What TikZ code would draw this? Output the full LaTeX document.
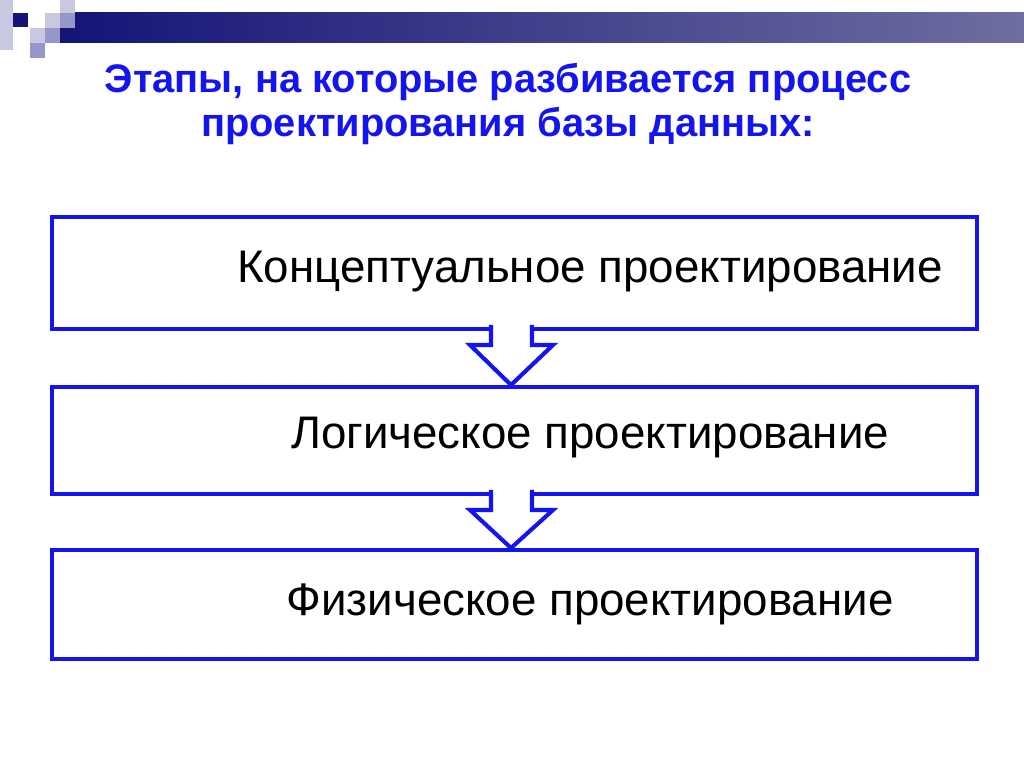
\documentclass[tikz,border=0pt]{standalone}
\usepackage{fontspec}
\setmainfont{Liberation Sans}
\usetikzlibrary{calc}
\definecolor{bl}{RGB}{20,20,240}
\definecolor{navy}{RGB}{20,20,120}
\definecolor{navyend}{RGB}{110,110,160}
\definecolor{lav}{RGB}{200,200,225}
\definecolor{mid}{RGB}{150,150,200}
\tikzset{stagebox/.style={draw=bl,line width=3.5pt,fill=white,minimum width=925*0.03cm,anchor=north west,inner sep=0},
 stagetext/.style={font=\fontsize{39}{44}\selectfont},
 flow/.style={draw=bl,line width=3.5pt,fill=white,line join=miter}}
\begin{document}
\begin{tikzpicture}[x=0.03cm,y=-0.03cm]
\useasboundingbox (0,0) rectangle (1024,767);
\fill[white] (0,0) rectangle (1024,767);
% header decoration
\shade[left color=navy,right color=navyend] (60,13) rectangle (1024,43);
\fill[lav] (0,0) rectangle (13,50);
\fill[lav] (60,0) rectangle (75,13);
\fill[lav] (45,13) rectangle (60,28);
\fill[mid] (60,13) rectangle (75,28);
\fill[navy] (13,13) rectangle (28,27);
\fill[lav] (30,28) rectangle (45,43);
\fill[mid] (45,28) rectangle (60,43);
\fill[mid] (30,43) rectangle (45,58);
% title
\node[text=bl,font=\fontsize{34}{38}\selectfont\bfseries,align=center] (title) at (508,104) {Этапы, на которые разбивается процесс\\проектирования базы данных:};
% boxes
\node[stagebox,minimum height=112*0.03cm] (b1) at (50,215) {};
\node[stagebox,minimum height=107*0.03cm] (b2) at (50,385) {};
\node[stagebox,minimum height=109*0.03cm] (b3) at (50,548) {};
\node[stagetext] (t1) at (590,272) {Концептуальное проектирование};
\node[stagetext] (t2) at (590,438) {Логическое проектирование};
\node[stagetext] (t3) at (590,604) {Физическое проектирование};
% arrows
\fill[white] (492,327) rectangle (530,347);
\draw[flow] (491,325) -- (491,345) -- (470,345) -- (511,385) -- (553,345) -- (532,345) -- (532,325);
\fill[white] (492,492) rectangle (530,512);
\draw[flow] (491,490) -- (491,510) -- (470,510) -- (511,548) -- (553,510) -- (532,510) -- (532,490);
\end{tikzpicture}
\end{document}
